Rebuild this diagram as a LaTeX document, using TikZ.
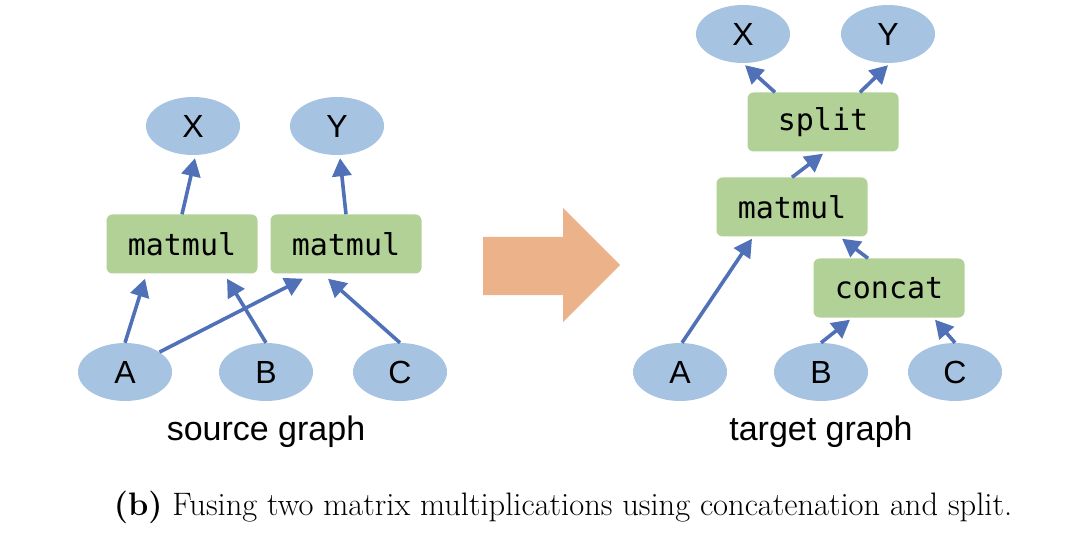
\documentclass[tikz,border=0pt]{standalone}
\usepackage{fontspec}
\usetikzlibrary{shapes.geometric,arrows.meta}
\newfontfamily\arialf{Liberation Sans}
\newfontfamily\monof{DejaVu Sans Mono}
\definecolor{ellfill}{HTML}{A6C3E2}
\definecolor{boxfill}{HTML}{B2D196}
\definecolor{arrblue}{HTML}{5070B8}
\definecolor{bigarr}{HTML}{ECB28A}
\tikzset{
  ell/.style={ellipse, fill=ellfill, minimum width=94pt, minimum height=58pt, inner sep=0pt, font=\arialf\fontsize{32}{32}\selectfont},
  opbox/.style={rectangle, rounded corners=6pt, fill=boxfill, minimum width=151pt, minimum height=59pt, inner sep=0pt, font=\monof\fontsize{30}{30}\selectfont},
  conn/.style={draw=arrblue, line width=3.6pt, -{Triangle[length=18pt,width=19pt]}},
  lbl/.style={font=\arialf\fontsize{34}{34}\selectfont, inner sep=0pt},
}
\begin{document}
\begin{tikzpicture}[x=1pt,y=-1pt]
\useasboundingbox (0,0) rectangle (1090,540);
% source graph
\node[ell] (sX) at (193,126) {X};
\node[ell] (sY) at (337,126) {Y};
\node[opbox] (sM1) at (182,244) {matmul};
\node[opbox] (sM2) at (346,244) {matmul};
\node[ell] (sA) at (125,372) {A};
\node[ell] (sB) at (266,372) {B};
\node[ell] (sC) at (400,372) {C};
\draw[conn] (sM1.north) -- ([xshift=2pt,yshift=-3pt]sX.south);
\draw[conn] (sM2.north) -- ([xshift=3pt,yshift=-3pt]sY.south);
\draw[conn] (sA.north) -- ([xshift=-37pt,yshift=-5pt]sM1.south);
\draw[conn] (sB.north) -- ([xshift=45pt,yshift=-5pt]sM1.south);
\draw[conn] (sA.30) -- ([xshift=-43pt,yshift=-5pt]sM2.south);
\draw[conn] (sC.north) -- ([xshift=-18pt,yshift=-5pt]sM2.south);
\node[lbl] (slbl) at (266,432) {source graph};
% big arrow
\fill[bigarr] (483,237) -- (563,237) -- (563,208) -- (620,265) -- (563,322) -- (563,295) -- (483,295) -- cycle;
% target graph
\node[ell] (tX) at (743,34) {X};
\node[ell] (tY) at (888,34) {Y};
\node[opbox] (tS) at (823,122) {split};
\node[opbox] (tM) at (792,207) {matmul};
\node[opbox] (tC) at (889,288) {concat};
\node[ell] (tA) at (680,372) {A};
\node[ell] (tB) at (821,372) {B};
\node[ell] (tCC) at (955,372) {C};
\draw[conn] ([xshift=-48pt]tS.north) -- ([xshift=2pt,yshift=-2pt]tX.south);
\draw[conn] ([xshift=37pt]tS.north) -- ([yshift=-2pt]tY.south);
\draw[conn] (tM.north) -- ([yshift=-2pt]tS.south);
\draw[conn] ([xshift=2pt]tA.north) -- ([xshift=-40pt,yshift=-2pt]tM.south);
\draw[conn] ([xshift=-21pt]tC.north) -- ([xshift=50pt,yshift=-2pt]tM.south);
\draw[conn] (tB.north) -- ([xshift=-39pt,yshift=-2pt]tC.south);
\draw[conn] (tCC.north) -- ([xshift=46pt,yshift=-2pt]tC.south);
\node[lbl] (tlbl) at (821,432) {target graph};
% caption
\node[font=\fontsize{32.5}{32.5}\selectfont, inner sep=0pt] (cap) at (563,507) {\textbf{(b)} Fusing two matrix multiplications using concatenation and split.};
\end{tikzpicture}
\end{document}
